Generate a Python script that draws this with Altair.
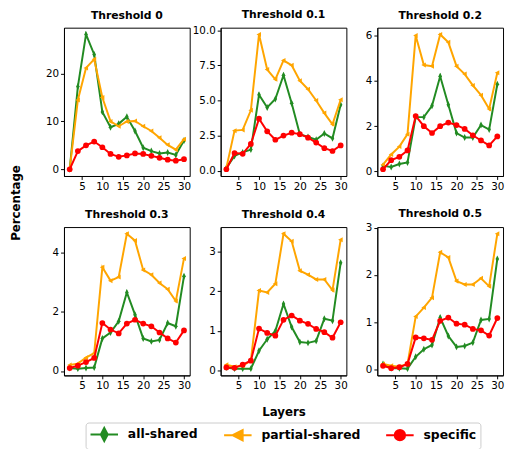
import altair as alt
import pandas as pd

layers = [2, 4, 6, 8, 10, 12, 14, 16, 18, 20, 22, 24, 26, 28, 30]
thresholds = ["0", "0.1", "0.2", "0.3", "0.4", "0.5"]
series_names = ["all-shared", "partial-shared", "specific"]
series_colors = ["#228b22", "#ffa500", "#ff0000"]

all_shared_0 = [0.0, 17.3, 28.2, 24.0, 12.0, 8.8, 9.5, 11.0, 8.0, 4.5, 3.8, 3.3, 3.5, 3.0, 6.0]
partial_shared_0 = [0.0, 14.5, 21.2, 23.0, 15.0, 10.0, 9.0, 10.0, 10.1, 9.0, 8.0, 6.6, 5.1, 4.1, 6.3]
specific_0 = [0.0, 3.8, 5.0, 5.8, 4.6, 3.2, 2.6, 2.9, 3.3, 3.2, 2.8, 2.4, 2.0, 1.8, 2.1]

all_shared_1 = [0.2, 1.05, 1.3, 1.5, 5.4, 4.5, 5.1, 6.8, 4.8, 2.6, 2.4, 2.2, 2.65, 2.3, 4.7]
partial_shared_1 = [0.2, 2.85, 2.9, 4.3, 9.7, 7.2, 6.5, 7.85, 7.5, 6.4, 5.8, 5.0, 4.1, 3.3, 5.05]
specific_1 = [0.1, 1.25, 1.2, 1.9, 3.7, 2.8, 2.2, 2.5, 2.7, 2.6, 2.35, 2.0, 1.6, 1.4, 1.8]

all_shared_2 = [0.25, 0.2, 0.33, 0.4, 2.4, 2.4, 2.9, 4.2, 2.95, 1.7, 1.5, 1.5, 2.05, 1.85, 3.85]
partial_shared_2 = [0.3, 0.75, 1.1, 1.65, 6.0, 4.7, 4.65, 6.05, 5.7, 4.65, 4.3, 3.8, 3.37, 2.76, 4.36]
specific_2 = [0.1, 0.5, 0.65, 0.93, 2.45, 2.0, 1.7, 2.0, 2.16, 2.05, 1.88, 1.6, 1.37, 1.15, 1.55]

all_shared_3 = [0.1, 0.08, 0.1, 0.12, 1.1, 1.3, 1.68, 2.65, 1.9, 1.1, 1.0, 1.05, 1.62, 1.51, 3.2]
partial_shared_3 = [0.2, 0.25, 0.45, 0.6, 3.5, 3.05, 3.17, 4.63, 4.4, 3.41, 3.25, 2.97, 2.76, 2.36, 3.8]
specific_3 = [0.1, 0.18, 0.3, 0.44, 1.62, 1.4, 1.27, 1.6, 1.73, 1.6, 1.51, 1.3, 1.1, 0.96, 1.37]

all_shared_4 = [0.08, 0.05, 0.05, 0.05, 0.5, 0.79, 1.0, 1.68, 1.1, 0.72, 0.7, 0.75, 1.31, 1.26, 2.72]
partial_shared_4 = [0.15, 0.1, 0.12, 0.25, 2.02, 1.97, 2.19, 3.45, 3.26, 2.52, 2.42, 2.3, 2.3, 2.03, 3.3]
specific_4 = [0.08, 0.07, 0.15, 0.25, 1.06, 0.95, 0.88, 1.28, 1.39, 1.26, 1.18, 1.05, 0.97, 0.83, 1.22]

all_shared_5 = [0.12, 0.03, 0.03, 0.02, 0.27, 0.43, 0.52, 1.1, 0.71, 0.48, 0.5, 0.57, 1.05, 1.07, 2.34]
partial_shared_5 = [0.12, 0.08, 0.06, 0.12, 1.12, 1.31, 1.52, 2.48, 2.37, 1.87, 1.8, 1.8, 1.93, 1.76, 2.87]
specific_5 = [0.08, 0.03, 0.05, 0.12, 0.68, 0.66, 0.63, 1.03, 1.1, 0.97, 0.95, 0.86, 0.83, 0.72, 1.09]

x_ticks = [5, 10, 15, 20, 25, 30]
y_ticks = [[0, 10, 20], [0, 2.5, 5, 7.5, 10], [0, 2, 4, 6], [0, 2, 4], [0, 1, 2, 3], [0, 1, 2, 3]]
y_formats = ["d", ".1f", "d", "d", "d", "d"]
title_offsets = [7, 5, 7, 7, 7, 4]

series_by_threshold = [
    (all_shared_0, partial_shared_0, specific_0),
    (all_shared_1, partial_shared_1, specific_1),
    (all_shared_2, partial_shared_2, specific_2),
    (all_shared_3, partial_shared_3, specific_3),
    (all_shared_4, partial_shared_4, specific_4),
    (all_shared_5, partial_shared_5, specific_5),
]

rows = []
for t, trio in zip(thresholds, series_by_threshold):
    for name, vals in zip(series_names, trio):
        for l, v in zip(layers, vals):
            rows.append({"threshold": t, "layer": l, "series": name, "value": v})
df = pd.DataFrame(rows)

marker_paths = ["M0,-1L0.5,0L0,1L-0.5,0Z", "M-1,0L0.8,-1L0.8,1Z", "circle"]
marker_sizes = [50, 26, 34]
legend_paths = [
    "M-1,0H3M1,-0.95L1.5,0L1,0.95L0.5,0Z",
    "M-1,0H3M0.25,0L1.7,-0.75L1.7,0.75Z",
    "M-1,0H3M1.75,0A0.75,0.75,0,1,1,0.25,0A0.75,0.75,0,1,1,1.75,0Z",
]

W, H = 128, 151


def panel(idx):
    t = thresholds[idx]
    vals = df[df.threshold == t]["value"]
    lo, hi = float(vals.min()), float(vals.max())
    m = 0.05 * (hi - lo)
    x_axis = alt.Axis(values=x_ticks, labelOverlap=False, labelFlush=False,
                      title="Layers" if idx == 4 else None, titlePadding=16)
    if idx == 0:
        y_axis = alt.Axis(values=y_ticks[idx], format=y_formats[idx], labelOverlap=False,
                          labelFlush=False, title="Percentage", titleX=-42, titleY=178)
    else:
        y_axis = alt.Axis(values=y_ticks[idx], format=y_formats[idx], labelOverlap=False,
                          labelFlush=False, title=None)
    x = alt.X("layer:Q", scale=alt.Scale(domain=[0.6, 31.4], nice=False, zero=False), axis=x_axis)
    y = alt.Y("value:Q", scale=alt.Scale(domain=[lo - m, hi + m], nice=False, zero=False), axis=y_axis)
    base = alt.Chart(df).transform_filter(alt.datum.threshold == t)
    parts = []
    for name, color, path, size in zip(series_names, series_colors, marker_paths, marker_sizes):
        b = base.transform_filter(alt.datum.series == name)
        parts.append(b.mark_line(color=color, strokeWidth=2).encode(x=x, y=y))
        parts.append(b.mark_point(shape=path, size=size, filled=True, color=color,
                                  opacity=1).encode(x=x, y=y))
    if idx == 0:
        leg = alt.Legend(title=None, orient="none", legendX=22, legendY=402,
                         direction="horizontal", labelFontSize=12.6, labelFontWeight="bold",
                         labelFont="DejaVu Sans", labelColor="black", symbolSize=196,
                         symbolStrokeWidth=2, strokeColor="#cccccc", cornerRadius=3,
                         padding=4, labelOffset=23, columnPadding=22, fillColor="white")
        parts.append(
            base.transform_filter("false").mark_point(filled=False, opacity=1, strokeWidth=2).encode(
                x=x, y=y,
                stroke=alt.Stroke("series:N", scale=alt.Scale(domain=series_names, range=series_colors), legend=leg),
                fill=alt.Fill("series:N", scale=alt.Scale(domain=series_names, range=series_colors), legend=leg),
                shape=alt.Shape("series:N", scale=alt.Scale(domain=series_names, range=legend_paths), legend=leg),
            )
        )
    return alt.layer(*parts).properties(
        width=W, height=H,
        title=alt.TitleParams(f"Threshold {t}", frame="group", offset=title_offsets[idx]))


chart = (
    alt.concat(*[panel(i) for i in range(6)], columns=3,
               spacing={"row": 52, "column": 31.5}, bounds="flush")
    .properties(padding={"left": 1, "top": -3, "right": 0, "bottom": 0}, background="white")
    .configure_view(stroke="black", strokeWidth=1)
    .configure_axis(domainColor="black", domainWidth=1, tickColor="black", tickWidth=1,
                    tickSize=3.5, labelColor="black", labelFont="DejaVu Sans", labelFontSize=10.5,
                    labelPadding=2, titleFont="DejaVu Sans", titleFontWeight="bold",
                    titleFontSize=12, titleColor="black", grid=False)
    .configure_title(font="DejaVu Sans", fontSize=11, fontWeight="bold", color="black",
                     anchor="middle")
)

chart.save("out.html", embed_options={"renderer": "svg", "actions": False})
